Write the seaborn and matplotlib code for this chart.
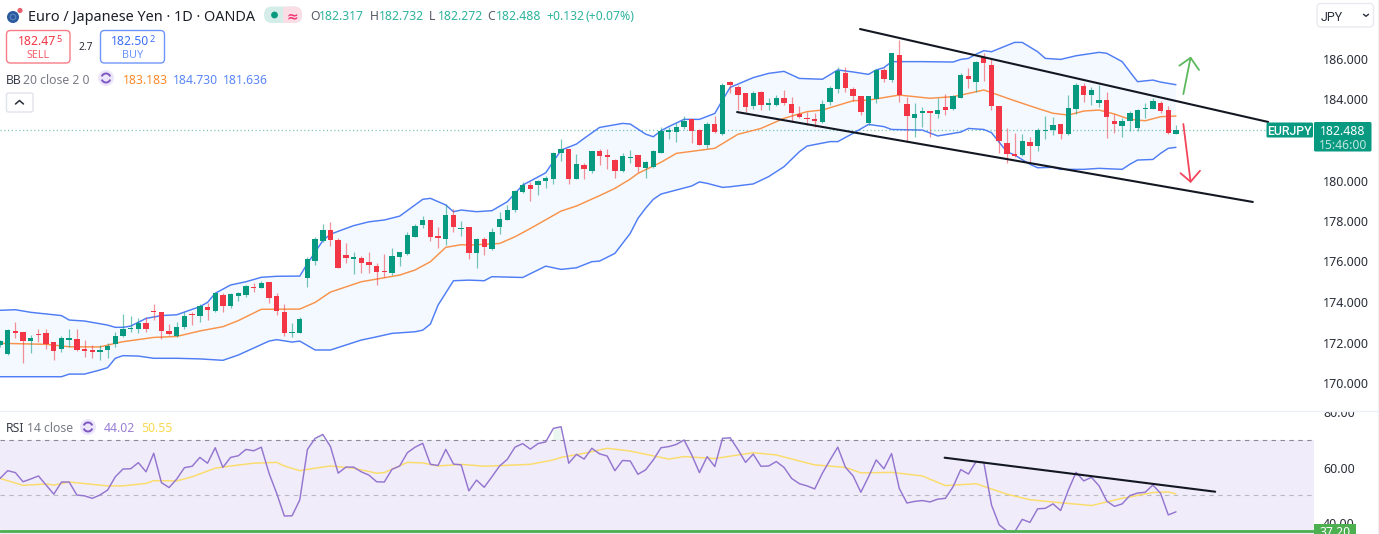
import matplotlib
matplotlib.use("Agg")
import numpy as np
import matplotlib.pyplot as plt
import seaborn as sns
from matplotlib.patches import FancyBboxPatch, Rectangle, Circle, Arc
from matplotlib.transforms import Bbox

# ---- EUR/JPY daily candles ------------------------------------------------
opens = [
    171.86,171.43,172.57,172.50,172.07,172.42,172.45,172.02,171.66,172.14,
    172.17,171.66,171.61,171.51,171.63,171.94,172.30,172.67,172.65,172.96,
    173.56,173.49,172.57,172.34,172.75,173.42,173.31,173.75,173.56,174.35,
    173.80,174.30,174.35,174.76,174.71,175.00,174.28,173.51,172.49,172.49,
    175.20,176.02,177.03,177.58,177.04,176.33,176.14,176.17,175.96,175.77,
    175.53,175.41,176.20,176.37,177.22,177.81,178.05,177.24,177.11,178.31,
    177.62,177.68,176.42,177.09,176.63,177.68,178.06,178.54,179.44,179.77,
    179.79,179.97,180.07,181.34,181.58,180.09,180.76,180.48,181.47,181.24,
    181.01,180.48,181.13,181.24,180.63,180.65,181.37,182.39,182.38,182.64,
    183.02,182.48,181.75,182.77,182.29,184.86,184.63,184.30,183.69,184.38,
    183.71,183.71,184.06,183.79,183.28,183.08,183.02,182.87,183.87,184.52,
    185.32,184.52,184.19,182.85,184.02,185.47,184.96,186.20,183.78,183.08,
    183.33,183.41,183.28,183.61,183.53,184.09,185.18,184.88,186.11,185.70,
    183.68,181.85,181.32,181.26,181.88,181.69,182.43,182.49,182.79,182.29,
    183.51,184.66,184.20,183.82,183.99,182.95,182.67,182.95,182.61,183.51,
    183.55,183.84,183.46,182.317,
]
closes = [
    172.06,172.60,172.47,172.07,172.22,172.37,171.94,171.58,172.22,172.22,
    171.63,171.60,171.51,171.63,171.84,172.32,172.67,172.72,172.98,172.67,
    173.51,172.57,172.42,172.78,173.32,173.37,173.82,173.60,174.43,173.80,
    174.39,174.43,174.79,174.71,174.92,174.20,173.57,172.49,172.53,173.18,
    176.10,177.09,177.55,177.04,175.66,176.19,176.22,175.94,175.82,175.49,
    175.46,176.25,176.45,177.29,177.75,178.05,177.22,177.14,178.28,177.68,
    177.67,176.43,177.11,176.73,177.44,178.11,178.54,179.48,179.79,179.59,
    179.97,180.14,181.37,181.54,180.09,180.83,180.56,181.47,181.21,181.17,
    180.48,181.21,181.18,180.65,180.91,181.47,182.43,182.51,182.66,182.95,
    182.46,181.77,182.80,182.38,184.71,184.73,184.24,183.64,184.32,183.73,
    183.84,184.06,183.83,183.33,183.15,183.03,182.92,183.79,184.55,185.41,
    184.57,184.15,183.40,184.17,185.47,185.03,186.28,184.22,183.20,183.30,
    183.43,183.31,183.46,183.48,184.15,185.21,185.00,185.85,185.82,183.68,
    181.95,181.31,181.22,181.97,181.72,182.48,182.49,182.74,182.29,183.58,
    184.71,184.22,184.45,183.99,183.15,182.77,182.92,183.35,183.50,183.56,
    183.92,183.45,182.36,182.488,
]
highs = [
    172.12,172.65,173.03,172.50,172.37,172.65,172.65,172.02,172.32,172.67,
    172.65,172.11,171.88,171.88,171.99,172.52,173.41,173.31,173.19,173.24,
    173.90,173.49,172.91,173.03,173.49,173.49,173.88,173.93,174.46,174.43,
    174.43,174.51,174.84,174.92,175.04,175.00,174.43,173.90,172.96,173.24,
    176.24,177.19,177.83,177.93,177.14,176.89,176.45,176.27,176.45,175.94,
    176.35,176.65,176.45,177.47,177.85,178.24,178.05,177.72,178.82,178.57,
    178.00,177.68,177.14,177.19,177.63,178.44,178.77,179.53,179.94,179.94,
    180.02,180.22,181.40,182.03,181.58,181.29,180.84,181.47,181.54,181.54,
    181.04,181.34,181.50,181.24,180.96,181.50,182.66,182.66,182.82,183.18,
    183.02,182.52,182.89,183.18,184.80,184.93,184.71,184.30,184.43,184.42,
    184.07,184.22,184.47,184.10,183.68,183.40,183.32,183.97,184.68,185.59,
    185.59,184.63,184.19,184.17,185.50,185.57,186.31,186.94,184.14,183.81,
    183.64,183.41,184.09,184.25,184.22,185.32,185.54,185.90,186.28,186.03,
    183.68,182.57,182.33,182.30,182.16,182.57,183.18,183.15,182.79,184.20,
    184.80,184.80,184.60,184.71,184.35,183.27,183.07,183.43,183.51,183.81,
    184.06,183.94,183.68,182.732,
]
lows = [
    171.79,171.37,172.21,170.97,171.50,172.02,171.70,171.14,171.55,171.79,
    171.60,171.30,171.25,171.14,171.25,171.79,172.29,172.50,172.45,172.50,
    173.11,172.17,172.37,172.29,172.67,172.86,173.03,173.11,173.52,173.49,
    173.72,174.05,174.23,174.51,174.67,173.97,173.36,172.32,172.29,172.45,
    174.75,175.82,176.98,176.78,175.66,175.94,175.36,175.41,175.44,174.84,
    175.21,175.33,175.77,176.32,177.22,177.63,177.01,176.65,176.81,177.45,
    177.26,176.12,175.69,176.30,176.56,177.35,178.05,178.46,179.40,178.98,
    179.28,179.63,179.81,180.98,179.81,180.07,180.09,180.38,180.79,180.55,
    180.14,180.43,180.85,180.43,180.14,180.63,181.34,182.05,181.92,182.56,
    181.87,181.75,181.60,182.33,182.26,184.30,183.48,183.36,183.53,183.48,
    183.48,183.68,183.74,182.90,183.07,182.74,182.66,182.82,183.73,184.30,
    184.35,183.92,183.23,182.74,183.81,184.88,184.85,183.89,181.88,182.13,
    182.62,182.16,183.10,183.23,183.48,184.06,184.55,184.38,184.93,183.48,
    181.37,180.85,181.14,181.21,180.88,181.45,182.05,182.24,182.03,182.24,
    183.27,183.86,183.73,183.64,182.08,182.36,182.13,182.44,182.44,183.07,
    183.51,183.31,182.29,182.272,
]

# ---- Bollinger bands (20, close, 2): session number and level -------------
upper_days = [0,2,4,8,9,11,14,15,16,17,19,21,23,26,27,28,30,32,34,36,39,40,42,43,46,48,50,52,55,56,
              58,59,60,62,64,66,68,71,73,75,76,78,81,82,84,85,86,87,89,91,93,94,95,98,100,102,104,107,109,111,
              113,114,115,116,120,124,125,126,127,128,129,132,133,135,136,138,140,143,144,146,147,148,150,151,153]
upper_band = [173.59,173.62,173.49,173.33,173.11,173.06,172.86,172.75,172.75,172.81,173.19,173.33,173.37,173.77,173.98,
              174.43,174.84,175.00,175.22,175.27,175.28,175.90,177.03,177.35,177.77,177.96,178.05,178.24,179.07,179.12,
              178.79,178.46,178.54,178.46,178.51,178.95,179.77,180.38,181.50,181.80,182.08,182.62,182.82,182.79,182.29,
              182.16,182.46,182.66,183.02,183.02,183.31,183.97,184.60,185.08,185.29,185.39,185.04,185.00,185.46,185.36,
              185.24,185.46,185.57,185.87,185.87,185.85,185.98,186.03,186.24,186.41,186.36,186.82,186.82,186.36,186.03,
              185.98,186.16,186.33,186.28,185.87,185.37,184.88,184.96,184.86,184.73]
middle_days = [0,6,9,13,15,16,20,23,26,29,31,34,39,41,43,47,52,54,56,58,60,61,65,67,69,73,75,78,80,82,
               83,86,88,93,96,99,102,105,107,111,113,117,121,124,126,128,129,132,135,137,139,141,143,145,147,149,151,153]
middle_band = [171.96,171.91,171.79,171.78,171.96,172.04,172.25,172.30,172.57,172.78,173.08,173.64,173.65,173.98,174.49,
               175.00,175.33,175.58,175.99,176.70,176.83,176.81,176.89,177.22,177.63,178.49,178.74,179.25,179.61,180.07,
               180.35,180.90,181.34,181.59,182.28,182.57,183.07,183.40,183.48,183.94,183.97,184.22,184.06,184.14,184.30,
               184.47,184.34,183.94,183.56,183.32,183.23,183.43,183.48,183.28,183.02,182.95,183.15,183.183]
lower_days = [0,4,8,9,11,13,14,15,16,18,20,23,26,29,31,35,36,38,39,41,43,47,49,51,54,55,56,57,59,61,
              63,64,68,71,73,75,77,78,80,82,83,84,85,86,88,90,91,92,94,95,98,100,102,104,105,108,109,111,113,115,
              116,120,122,125,126,128,129,131,132,134,135,137,138,141,143,146,147,148,150,151,152,153]
lower_band = [170.31,170.31,170.31,170.44,170.44,170.64,170.76,171.22,171.35,171.33,171.22,171.22,171.19,171.12,171.38,
              172.07,172.14,172.02,172.07,171.63,171.63,172.12,172.28,172.45,172.53,172.61,172.91,173.85,175.05,175.08,
              175.05,175.25,175.21,175.77,175.61,175.69,175.99,176.02,176.40,177.39,178.13,178.63,179.07,179.33,179.53,
              179.73,179.93,179.86,179.66,179.69,179.83,180.19,180.68,181.42,181.70,181.92,181.92,182.33,182.77,182.66,
              182.52,182.49,182.20,182.39,182.57,182.52,182.36,181.42,181.26,180.80,180.63,180.65,180.55,180.55,180.60,
              180.55,180.80,181.01,181.04,181.34,181.59,181.636]

# ---- RSI (14, close) and its moving average -------------------------------
rsi_values = [
    56.1,58.9,58.2,54.9,55.9,57.0,53.7,50.4,54.8,54.8,50.1,49.8,48.9,50.1,51.9,56.7,59.5,59.6,61.8,58.5,
    65.2,54.6,52.8,55.9,60.0,60.5,63.7,61.6,67.2,60.1,63.7,64.3,66.6,66.1,67.4,58.0,50.7,42.5,42.6,48.3,
    66.6,70.6,72.0,67.6,58.0,60.2,60.2,58.5,57.3,54.9,54.8,59.4,60.6,65.4,67.4,68.8,61.2,60.8,66.6,61.3,
    61.0,51.6,55.5,52.9,56.7,60.6,63.0,67.4,68.7,66.7,68.7,69.3,74.2,74.8,61.6,64.8,63.1,67.0,65.0,64.2,
    58.9,62.6,62.4,57.6,59.2,62.8,67.2,67.6,68.4,70.0,64.6,58.2,64.0,60.4,70.6,70.8,66.6,61.9,64.9,60.5,
    60.6,62.2,60.1,56.1,54.2,53.4,52.3,58.0,62.8,67.4,60.1,57.0,51.1,56.7,62.8,59.6,65.1,52.5,47.2,47.8,
    48.1,47.6,48.6,48.9,53.1,59.3,57.7,62.2,61.9,46.5,39.3,37.1,36.7,41.3,40.2,45.1,45.3,46.9,44.5,51.9,
    58.3,55.2,56.5,53.4,47.9,46.0,46.9,49.9,50.8,51.1,53.7,50.7,42.9,44.02,
]
rsi_ma_days = [0,3,6,7,9,14,16,19,20,23,25,28,30,33,36,37,39,41,43,46,49,50,53,55,57,60,63,69,72,73,
               76,79,82,87,89,93,98,101,104,106,110,112,116,120,123,127,131,134,138,142,146,150,152,153]
rsi_ma = [56.1,53.6,54.1,53.7,54.8,53.4,53.4,54.3,55.3,55.2,56.7,59.8,60.6,61.6,61.9,60.6,58.9,59.8,60.6,59.8,
          58.0,58.2,61.9,61.7,60.6,61.2,60.5,61.2,62.8,63.7,65.2,67.0,66.0,63.1,64.0,63.3,65.4,64.6,62.4,61.0,
          60.1,58.1,58.3,57.0,53.5,54.2,50.4,48.4,47.3,46.3,48.9,51.0,51.2,50.55]

# ---- Hand-drawn channel, trend line and direction arrows ------------------
channel_top_days, channel_top = [111.9, 165.0], [187.48, 182.89]
channel_low_days, channel_low = [95.9, 163.0], [183.38, 178.94]
rsi_trend_days, rsi_trend = [122.9, 158.1], [63.6, 51.3]
up_shaft_days, up_shaft = [153.96, 154.9], [184.27, 186.06]
up_head_days, up_head = [153.44, 154.9, 156.0], [185.67, 186.06, 185.46]
down_shaft_days, down_shaft = [153.96, 154.9], [182.79, 179.94]
down_head_days, down_head = [153.6, 154.9, 156.13], [180.36, 179.94, 180.48]

last_price = 182.488
rsi_oversold_level = 37.20
price_ticks = [170, 172, 174, 176, 178, 180, 182, 184, 186]
rsi_ticks = [40, 60, 80]

GREEN, RED = "#089981", "#f23645"
BLUE, ORANGE = "#4f7df5", "#f9924a"
PURPLE, YELLOW = "#9476d0", "#fbdc6a"
INK, MUTED = "#131722", "#787b86"

W, H = 1379, 534
sns.set_theme(style="white")
plt.rcParams["font.family"] = ["Noto Sans", "DejaVu Sans"]
fig = plt.figure(figsize=(W / 100, H / 100), dpi=100, facecolor="white")

day_px = 7.686
ax = fig.add_axes([0, 1 - 410 / H, 1314 / W, 410 / H])
ax_rsi = fig.add_axes([0, 0, 1314 / W, 123 / H])
for a in (ax, ax_rsi):
    a.set_xlim(0, 1314 / day_px)
    a.set_xticks([])
    a.yaxis.tick_right()
    a.tick_params(axis="y", length=0, pad=6.5, labelcolor="#2a2e39", labelsize=9)
    a.grid(False)
    for s in a.spines.values():
        s.set_visible(False)
    a.set_xlabel("")
ax.set_ylim(186 - 351 / 20.25, 186 + 59 / 20.25)
ax_rsi.set_ylim(70 - 94 / 2.765, 70 + 29 / 2.765)

# Price pane: band fill, then lines, then candles
ax.fill(np.r_[upper_days, lower_days[::-1]], np.r_[upper_band, lower_band[::-1]],
        color="#f3f9fe", lw=0, zorder=1)
ax.axhline(last_price, xmax=1266 / 1314, color=GREEN, lw=0.9, ls=(0, (1, 2)), alpha=0.55, zorder=2)
sns.lineplot(x=upper_days, y=upper_band, ax=ax, color=BLUE, lw=1.05, zorder=3, legend=False, errorbar=None)
sns.lineplot(x=lower_days, y=lower_band, ax=ax, color=BLUE, lw=1.05, zorder=3, legend=False, errorbar=None)
sns.lineplot(x=middle_days, y=middle_band, ax=ax, color=ORANGE, lw=1.05, zorder=3, legend=False, errorbar=None)

days = np.arange(len(closes))
o, c, hi, lo = map(np.array, (opens, closes, highs, lows))
colors = np.where(c >= o, GREEN, RED)
ax.vlines(days, lo, hi, colors=colors, lw=0.9, alpha=0.55, zorder=4)
ax.bar(days, np.abs(c - o), bottom=np.minimum(o, c), width=0.7, color=colors, lw=0, zorder=5)

sns.lineplot(x=channel_top_days, y=channel_top, ax=ax, color=INK, lw=1.5, zorder=6, legend=False, errorbar=None)
sns.lineplot(x=channel_low_days, y=channel_low, ax=ax, color=INK, lw=1.5, zorder=6, legend=False, errorbar=None)
ax.plot(up_shaft_days, up_shaft, color="#5cb85c", lw=1.3, zorder=6)
ax.plot(up_head_days, up_head, color="#5cb85c", lw=1.3, zorder=6)
ax.plot(down_shaft_days, down_shaft, color="#f2455a", lw=1.3, zorder=6)
ax.plot(down_head_days, down_head, color="#f2455a", lw=1.3, zorder=6)
ax.set_yticks(price_ticks, [f"{t:.3f}" for t in price_ticks])

# RSI pane
ax_rsi.axhspan(30, 70, color="#f0ecf9", lw=0, zorder=1)
rsi_arr = np.array(rsi_values)
ax_rsi.fill_between(days, 70, rsi_arr, where=rsi_arr > 70, color="#c9e8d4", alpha=0.35, lw=0, zorder=1)
ax_rsi.axhline(70, color="#8a8d96", lw=0.8, ls=(0, (4, 4)), zorder=2)
ax_rsi.axhline(50, color="#b9b9c2", lw=0.8, ls=(0, (4, 4)), zorder=2)
ax_rsi.axhline(rsi_oversold_level, color="#4caf50", lw=2, zorder=6)
sns.lineplot(x=rsi_ma_days, y=rsi_ma, ax=ax_rsi, color=YELLOW, lw=1.05, zorder=3, legend=False, errorbar=None)
sns.lineplot(x=days, y=rsi_values, ax=ax_rsi, color=PURPLE, lw=1.05, zorder=4, legend=False, errorbar=None)
sns.lineplot(x=rsi_trend_days, y=rsi_trend, ax=ax_rsi, color=INK, lw=1.5, zorder=5, legend=False, errorbar=None)
ax_rsi.set_yticks(rsi_ticks, [f"{t:.2f}" for t in rsi_ticks])
clip = Bbox.from_extents(1300, 0, W, H - 412)
for lab in ax_rsi.get_yticklabels():
    lab.set_clip_box(clip)
    lab.set_clip_on(True)

# Screen furniture, laid out in pixels on a transparent overlay
ui = fig.add_axes([0, 0, 1, 1], zorder=5, facecolor="none")
ui.set_xlim(0, W)
ui.set_ylim(H, 0)
ui.axis("off")


def label(x, y, s, color=INK, size=9, ha="left", **kw):
    ui.text(x, y, s, color=color, fontsize=size, ha=ha, va="center_baseline", **kw)


def box(x0, y0, x1, y1, edge, face="white", r=3, lw=1):
    ui.add_patch(FancyBboxPatch((x0, y0), x1 - x0, y1 - y0, boxstyle=f"round,pad=0,rounding_size={r}",
                                ec=edge, fc=face, lw=lw))


def refresh_icon(cx, cy):
    ui.add_patch(Circle((cx, cy), 8, fc="#ece6fa", ec="none"))
    ui.add_patch(Arc((cx, cy), 9, 9, theta1=20, theta2=160, color="#7e57c2", lw=1.4))
    ui.add_patch(Arc((cx, cy), 9, 9, theta1=200, theta2=340, color="#7e57c2", lw=1.4))


ui.plot([0, 1379], [410.5, 410.5], color="#eef0f5", lw=1)
ui.plot([1377.5, 1377.5], [0, 534], color="#eef0f5", lw=1)

# Symbol line
ui.add_patch(Circle((13, 17), 6, fc="#2a5a9e", ec="none"))
ui.add_patch(Circle((13, 17), 2.8, fc="none", ec="#5f86bd", lw=0.8))
ui.add_patch(Circle((20, 10.5), 2.6, fc="#e8606e", ec="none"))
label(28, 15.5, "Euro / Japanese Yen · 1D · OANDA", size=10.4, color="#1c1f28")
box(264, 6.5, 302, 23, "none", "#d5ede8", r=8)
box(283, 6.5, 302, 23, "none", "#fbdde6", r=8)
ui.add_patch(Rectangle((283, 6.5), 9, 16.5, fc="#fbdde6", ec="none"))
ui.add_patch(Circle((274.5, 15), 3.4, fc=GREEN, ec="none"))
label(292, 15, "≈", color="#f23674", size=10, ha="center", fontweight="bold")
ohlc_teal = "#2eb39c"
for x, tag, val in [(310, "O", "182.317"), (369.5, "H", "182.732"), (429, "L", "182.272"), (487, "C", "182.488")]:
    label(x, 15.5, tag, color="#555a66", size=8.8)
    label(x + 9, 15.5, val, color=ohlc_teal, size=8.8)
label(546, 15.5, "+0.132", color=ohlc_teal, size=8.8)
label(585, 15.5, "(+0.07%)", color=ohlc_teal, size=8.8)

# Sell / buy quote boxes
box(6.5, 30.5, 70, 63, "#f77c86", r=4)
label(18, 40, "182.47", color=RED, size=8.8, fontweight="medium")
label(56, 38.5, "5", color=RED, size=6.6)
label(38.5, 53.5, "SELL", color="#f4606c", size=7.8, ha="center")
label(85.5, 46, "2.7", color="#2a2e39", size=7.4, ha="center")
box(100.5, 30.5, 164.5, 63, "#6f95fb", r=4)
label(111, 40, "182.50", color="#3d6ff5", size=8.8, fontweight="medium")
label(149.5, 38.5, "2", color="#3d6ff5", size=6.6)
label(132.5, 53.5, "BUY", color="#6f95fb", size=7.8, ha="center")

# Indicator legends
label(6, 78.5, "BB", color="#3a3e4a", size=8.8)
label(23, 78.5, "20 close 2 0", color=MUTED, size=8.8)
refresh_icon(106, 78)
label(123, 78.5, "183.183", color="#f98a2b", size=8.8)
label(173, 78.5, "184.730", color="#5a86f8", size=8.8)
label(223, 78.5, "181.636", color="#5a86f8", size=8.8)
box(6.5, 93, 33, 112, "#e0e3eb", r=2)
ui.plot([15.5, 19.5, 23.5], [104, 100.5, 104], color="#2a2e39", lw=1.1)

label(6, 427.5, "RSI", color="#3a3e4a", size=8.8)
label(27, 427.5, "14 close", color=MUTED, size=8.8)
refresh_icon(88, 427)
label(104, 427.5, "44.02", color="#9a7ed6", size=8.8)
label(141, 427.5, "50.55", color="#f8d94f", size=8.8)

# Currency selector and last-price tags
box(1317, 3.5, 1373.5, 27, "#e8eaf0", r=4)
label(1321, 16, "JPY", color="#2a2e39", size=9, family="Roboto")
ui.plot([1363.5, 1366, 1368.5], [14.3, 16.3, 14.3], color="#2a2e39", lw=1)
box(1266.5, 122.5, 1313, 137.5, "none", GREEN, r=1.5)
label(1289.8, 130.3, "EURJPY", color="white", size=8.8, ha="center", fontweight="medium", family="Roboto")
box(1314, 122, 1371.5, 151.5, "none", GREEN, r=1.5)
label(1343, 130.3, "182.488", color="white", size=8.8, ha="center", fontweight="medium")
label(1343, 144, "15:46:00", color="#bfe6dc", size=8.8, ha="center")
ui.add_patch(Rectangle((1314, 524), 42, 10, fc="#4caf50", ec="none"))
label(1335, 531.5, "37.20", color="white", size=8.8, ha="center", clip_on=True)

fig.savefig("out.png", dpi=100, facecolor="white")
